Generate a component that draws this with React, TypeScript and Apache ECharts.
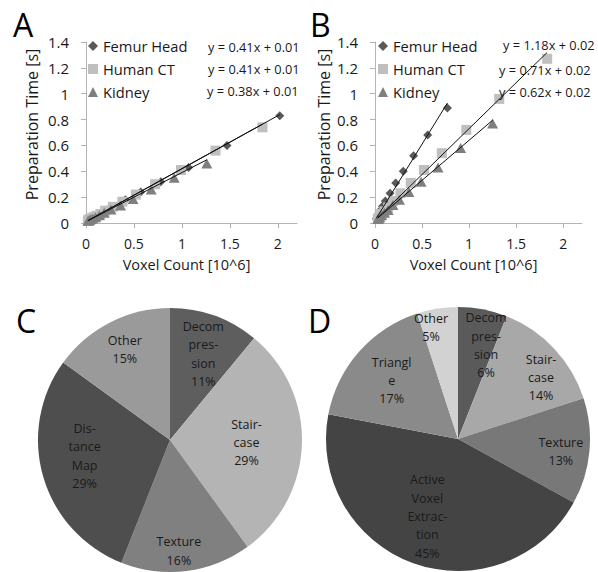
import React, { useEffect, useRef } from "react";
import * as echarts from "echarts";

// ---------- Data ----------
const scatterNames = ["Femur Head", "Human CT", "Kidney"];

// Panel A
const femurAX = [2.02, 1.47, 1.07, 0.78, 0.57, 0.41, 0.3, 0.22, 0.16, 0.12, 0.08, 0.06, 0.04, 0.03, 0.02];
const femurAY = [0.83, 0.6, 0.43, 0.32, 0.24, 0.18, 0.13, 0.1, 0.075, 0.06, 0.045, 0.035, 0.028, 0.022, 0.018];
const humanAX = [1.84, 1.35, 0.99, 0.72, 0.52, 0.38, 0.28, 0.2, 0.15, 0.11, 0.08, 0.06, 0.04, 0.03, 0.02];
const humanAY = [0.74, 0.56, 0.41, 0.3, 0.22, 0.165, 0.125, 0.095, 0.07, 0.055, 0.045, 0.035, 0.03, 0.025, 0.02];
const kidneyAX = [1.26, 0.92, 0.68, 0.49, 0.36, 0.26, 0.19, 0.14, 0.1, 0.07, 0.05, 0.04, 0.03, 0.02];
const kidneyAY = [0.46, 0.35, 0.26, 0.185, 0.135, 0.105, 0.08, 0.06, 0.045, 0.035, 0.03, 0.025, 0.02, 0.017];
const slopesA = [0.41, 0.41, 0.38];
const interceptsA = [0.01, 0.01, 0.01];

// Panel B
const femurBX = [0.77, 0.56, 0.41, 0.3, 0.22, 0.16, 0.11, 0.08, 0.06, 0.04, 0.03, 0.02, 0.015];
const femurBY = [0.89, 0.68, 0.52, 0.4, 0.31, 0.23, 0.17, 0.13, 0.1, 0.07, 0.05, 0.04, 0.03];
const humanBX = [1.83, 1.32, 0.97, 0.71, 0.52, 0.38, 0.27, 0.19, 0.14, 0.1, 0.07, 0.05, 0.04, 0.03];
const humanBY = [1.27, 0.96, 0.72, 0.54, 0.41, 0.31, 0.23, 0.17, 0.12, 0.09, 0.07, 0.05, 0.04, 0.03];
const kidneyBX = [1.25, 0.91, 0.67, 0.49, 0.36, 0.26, 0.19, 0.14, 0.1, 0.07, 0.05, 0.04, 0.03];
const kidneyBY = [0.77, 0.58, 0.43, 0.32, 0.24, 0.18, 0.14, 0.1, 0.08, 0.06, 0.045, 0.035, 0.03];
const slopesB = [1.18, 0.71, 0.62];
const interceptsB = [0.02, 0.02, 0.02];

const xTickValues = [0, 0.5, 1, 1.5, 2];

// Panel C pie
const pieCNames = ["Decompression", "Staircase", "Texture", "Distance Map", "Other"];
const pieCLabels = ["Decom\npres-\nsion", "Stair-\ncase", "Texture", "Dis-\ntance\nMap", "Other"];
const pieCValues = [11, 29, 16, 29, 15];

// Panel D pie
const pieDNames = ["Decompression", "Staircase", "Texture", "Active Voxel Extraction", "Triangle", "Other"];
const pieDLabels = ["Decom\npres-\nsion", "Stair-\ncase", "Texture", "Active\nVoxel\nExtrac-\ntion", "Triangl\ne", "Other"];
const pieDValues = [6, 14, 13, 45, 17, 5];

// ---------- Styles ----------
const FONT = "Open Sans";
const TEXT = "#1a1a1a";
const AXIS = "#b4b4b4";
const scatterColors = ["#595959", "#bfbfbf", "#7f7f7f"];
const scatterSymbols = ["diamond", "rect", "triangle"];
const scatterSizes: any[] = [[9, 9], [10, 10], [11, 10]];
const pieCColors = ["#5e5e5e", "#b4b4b4", "#808080", "#4e4e4e", "#9a9a9a"];
const pieDColors = ["#5a5a5a", "#a8a8a8", "#787878", "#444444", "#8a8a8a", "#d2d2d2"];
// label radius (fraction of pie radius) and small pixel nudges
const pieCLabelR = [0.7, 0.58, 0.84, 0.65, 0.77];
const pieCNudge = [[2, 1], [0, 0], [-5, 1], [-3, -8], [1, 0]];
const pieDLabelR = [0.73, 0.78, 0.79, 0.64, 0.67, 0.87];
const pieDNudge = [[10, 1], [8, 9], [-1, 3], [-2, -2], [0, 0], [-9, 2]];

const zip = (xs: number[], ys: number[]) => xs.map((x, i) => [x, ys[i]]);

function scatterPanel(gi: number, xs: number[][], ys: number[][], slopes: number[], intercepts: number[]) {
  const out: any[] = [];
  for (let i = 0; i < 3; i++) {
    out.push({
      type: "scatter",
      name: scatterNames[i],
      xAxisIndex: gi,
      yAxisIndex: gi,
      data: zip(xs[i], ys[i]),
      symbol: scatterSymbols[i],
      symbolSize: scatterSizes[i],
      itemStyle: { color: scatterColors[i], opacity: 1 },
      z: 2 + i,
      silent: true,
    });
  }
  for (let i = 0; i < 3; i++) {
    const x0 = Math.min(...xs[i]);
    const x1 = Math.max(...xs[i]);
    out.push({
      type: "line",
      name: "trend" + gi + "_" + i,
      xAxisIndex: gi,
      yAxisIndex: gi,
      data: [
        [x0, slopes[i] * x0 + intercepts[i]],
        [x1, slopes[i] * x1 + intercepts[i]],
      ],
      symbol: "none",
      lineStyle: { color: "#111", width: 1 },
      z: 10,
      silent: true,
    });
  }
  return out;
}

function pieSeries(center: number[], R: number, names: string[], values: number[], colors: string[]) {
  return {
    type: "pie",
    center,
    radius: [0, R],
    startAngle: 90,
    clockwise: true,
    silent: true,
    avoidLabelOverlap: false,
    label: { show: false },
    labelLine: { show: false },
    itemStyle: { borderWidth: 0 },
    data: names.map((n, i) => ({ name: n, value: values[i], itemStyle: { color: colors[i] } })),
  };
}

// Slice labels placed along each slice's mid-angle (derived from the data)
function pieLabels(center: number[], R: number, labels: string[], values: number[], factors: number[], nudge: number[][]) {
  const total = values.reduce((s, v) => s + v, 0);
  let cum = 0;
  return values.map((v, i) => {
    const mid = (cum + v / 2) / total;
    cum += v;
    const th = mid * Math.PI * 2;
    const r = factors[i] * R;
    return {
      type: "text",
      x: center[0] + r * Math.sin(th) + nudge[i][0],
      y: center[1] - r * Math.cos(th) + nudge[i][1],
      style: {
        text: labels[i] + "\n" + v + "%",
        fontFamily: FONT,
        fontSize: 12.5,
        lineHeight: 18.3,
        fill: TEXT,
        align: "center",
        verticalAlign: "middle",
      },
      z: 20,
      silent: true,
    };
  });
}

function axisPair(gi: number, yNameGap: number) {
  const x = {
    type: "value",
    gridIndex: gi,
    min: 0,
    max: 2.2,
    interval: 0.5,
    name: "Voxel Count [10^6]",
    nameLocation: "middle",
    nameGap: 33.5,
    nameTextStyle: { fontFamily: FONT, fontSize: 14.5, color: TEXT, padding: [0, 10, 0, 0] },
    axisLine: { show: true, lineStyle: { color: AXIS, width: 1 } },
    axisTick: { show: true, length: 5, lineStyle: { color: AXIS }, customValues: xTickValues },
    axisLabel: { fontFamily: FONT, fontSize: 14, color: TEXT, margin: 13.5, customValues: xTickValues },
    splitLine: { show: false },
  };
  const y = {
    type: "value",
    gridIndex: gi,
    min: 0,
    max: 1.4,
    interval: 0.2,
    name: "Preparation Time [s]",
    nameLocation: "middle",
    nameGap: yNameGap,
    nameTextStyle: { fontFamily: FONT, fontSize: 16, color: TEXT, padding: [0, 0, 0, 16] },
    axisLine: { show: true, lineStyle: { color: AXIS, width: 1 } },
    axisTick: { show: true, length: 5, lineStyle: { color: AXIS } },
    axisLabel: { fontFamily: FONT, fontSize: 15, color: TEXT, margin: 17 },
    splitLine: { show: false },
  };
  return { x, y };
}

const legendData = scatterNames.map((n, i) => ({ name: n, icon: scatterSymbols[i] }));

function legendAt(left: number) {
  return {
    orient: "vertical",
    left,
    top: 38.5,
    padding: 0,
    itemWidth: 10,
    itemHeight: 10,
    itemGap: 8,
    selectedMode: false,
    textStyle: { fontFamily: FONT, fontSize: 14.7, color: TEXT, lineHeight: 15 },
    data: legendData,
  };
}

function eqText(x: number, y: number, s: number, b: number) {
  return {
    type: "text",
    x,
    y,
    style: {
      text: `y = ${s.toFixed(2)}x + ${b.toFixed(2)}`,
      fontFamily: FONT,
      fontSize: 12.8,
      fill: TEXT,
      verticalAlign: "middle",
      align: "left",
    },
    z: 20,
  };
}

function letter(x: number, y: number, t: string) {
  return {
    type: "text",
    x,
    y,
    style: { text: t, fontFamily: FONT, fontSize: 32, fill: "#000", verticalAlign: "middle", align: "left" },
    z: 20,
  };
}

export default function App() {
  const ref = useRef<HTMLDivElement>(null);
  useEffect(() => {
    if (!ref.current) return;
    const chart = echarts.init(ref.current, undefined, { renderer: "svg" });
    const a = axisPair(0, 46);
    const b = axisPair(1, 43);
    const option: any = {
      animation: false,
      backgroundColor: "#fff",
      textStyle: { fontFamily: FONT },
      grid: [
        { left: 86, top: 42, width: 211, height: 181 },
        { left: 375, top: 42, width: 207, height: 181 },
      ],
      xAxis: [a.x, b.x],
      yAxis: [a.y, b.y],
      legend: [legendAt(88), legendAt(378)],
      series: [
        ...scatterPanel(0, [femurAX, humanAX, kidneyAX], [femurAY, humanAY, kidneyAY], slopesA, interceptsA),
        ...scatterPanel(1, [femurBX, humanBX, kidneyBX], [femurBY, humanBY, kidneyBY], slopesB, interceptsB),
        pieSeries([170, 440], 132, pieCNames, pieCValues, pieCColors),
        pieSeries([458, 439], 132, pieDNames, pieDValues, pieDColors),
      ],
      graphic: [
        letter(13, 24, "A"),
        letter(310, 24, "B"),
        letter(16, 320, "C"),
        letter(308, 320, "D"),
        eqText(208, 47, slopesA[0], interceptsA[0]),
        eqText(208, 69, slopesA[1], interceptsA[1]),
        eqText(207, 91, slopesA[2], interceptsA[2]),
        eqText(503, 45, slopesB[0], interceptsB[0]),
        eqText(499, 70, slopesB[1], interceptsB[1]),
        eqText(499, 92, slopesB[2], interceptsB[2]),
        ...pieLabels([170, 440], 132, pieCLabels, pieCValues, pieCLabelR, pieCNudge),
        ...pieLabels([458, 439], 132, pieDLabels, pieDValues, pieDLabelR, pieDNudge),
      ],
    };
    chart.setOption(option);
    return () => chart.dispose();
  }, []);
  return (
    <div
      ref={ref}
      style={{ position: "fixed", left: 0, top: 0, width: 598, height: 572, background: "#fff" }}
    />
  );
}
